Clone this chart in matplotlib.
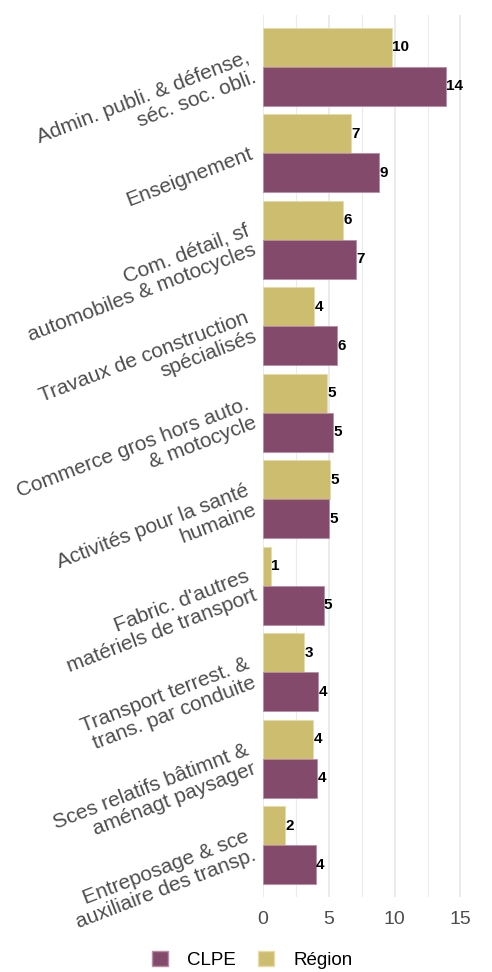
import numpy as np
import matplotlib.pyplot as plt
from matplotlib.patches import Patch

plt.rcParams['font.family'] = ['Liberation Sans', 'DejaVu Sans']

# Secteurs (du haut vers le bas) et parts en %
secteurs = [
    "Admin. publi. & défense,\nséc. soc. obli.",
    "Enseignement",
    "Com. détail, sf\nautomobiles & motocycles",
    "Travaux de construction\nspécialisés",
    "Commerce gros hors auto.\n& motocycle",
    "Activités pour la santé\nhumaine",
    "Fabric. d'autres\nmatériels de transport",
    "Transport terrest. &\ntrans. par conduite",
    "Sces relatifs bâtimnt &\naménagt paysager",
    "Entreposage & sce\nauxiliaire des transp.",
]
clpe = [13.9, 8.8, 7.1, 5.6, 5.3, 5.0, 4.6, 4.2, 4.1, 4.0]
region = [9.8, 6.7, 6.1, 3.9, 4.9, 5.1, 0.6, 3.1, 3.8, 1.7]

col_clpe = '#834A6B'
col_region = '#CDBE6F'
grey_txt = '#4D4D4D'

fig = plt.figure(figsize=(4.92, 9.72), dpi=100)
ax = fig.add_axes([263 / 492, 75 / 972, (467 - 263) / 492, (957 - 75) / 972])

n = len(secteurs)
y = np.arange(n)[::-1].astype(float)
h = 0.45

ax.barh(y + h / 2, region, height=h, color=col_region, edgecolor='#E6DCA8', linewidth=0.6, zorder=2)
ax.barh(y - h / 2, clpe, height=h, color=col_clpe, edgecolor='#B98DA6', linewidth=0.6, zorder=2)

for yy, v in zip(y, region):
    ax.text(v + 0.03, yy + h / 2, f"{round(v):d}", va='center', ha='left',
            fontsize=11, fontweight='bold', color='black')
for yy, v in zip(y, clpe):
    ax.text(v + 0.03, yy - h / 2, f"{round(v):d}", va='center', ha='left',
            fontsize=11, fontweight='bold', color='black')

ax.set_xlim(0, 15.5)
ax.set_ylim(-0.6, n - 1 + 0.6)

# grille verticale : majeure tous les 5, mineure à mi-chemin
for xv in [0, 5, 10, 15]:
    ax.axvline(xv, color='#EBEBEB', linewidth=1.4, zorder=0)
for xv in [2.5, 7.5, 12.5]:
    ax.axvline(xv, color='#EBEBEB', linewidth=0.8, zorder=0)

ax.set_xticks([0, 5, 10, 15])
ax.set_xticklabels(['0', '5', '10', '15'], fontsize=14, color=grey_txt)
ax.set_yticks(y)
ax.set_yticklabels(secteurs, fontsize=15, color=grey_txt, rotation=21,
                   ha='right', va='center', rotation_mode='anchor',
                   multialignment='right', linespacing=1.1)
ax.tick_params(axis='y', length=0, pad=8)
ax.tick_params(axis='x', length=0, pad=10)
for s in ax.spines.values():
    s.set_visible(False)

handles = [Patch(facecolor=col_clpe, edgecolor='#B98DA6', label='CLPE'),
           Patch(facecolor=col_region, edgecolor='#E6DCA8', label='Région')]
fig.legend(handles=handles, loc='center', bbox_to_anchor=(0.513, 0.0123), ncol=2,
           frameon=False, fontsize=13.5, handlelength=0.85, handleheight=0.85,
           columnspacing=1.2, handletextpad=1.0, labelcolor='black',
           borderpad=0.1)

fig.savefig('out.png', dpi=100)
